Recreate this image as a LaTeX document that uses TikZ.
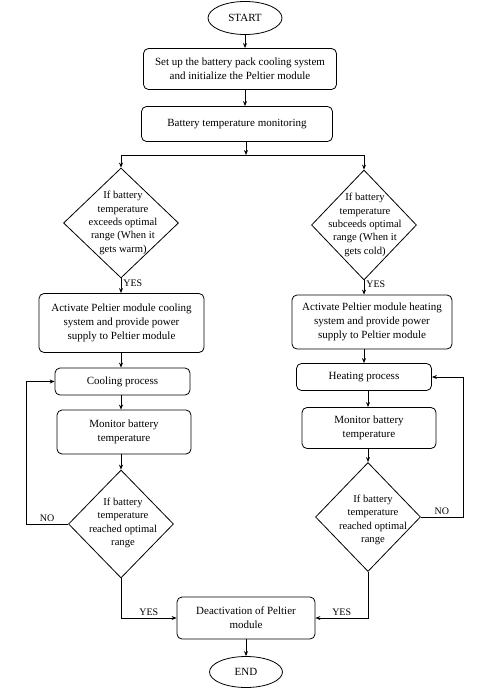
\documentclass[tikz,border=0pt]{standalone}
\usepackage{fontspec}
\setmainfont{Liberation Serif}
\usetikzlibrary{shapes.geometric,arrows.meta}
\begin{document}
\begin{tikzpicture}[x=1pt,y=-1pt, line width=0.8pt,
  box/.style={draw, rounded corners=5pt, align=center, font=\fontsize{11}{14}\selectfont, inner sep=0pt},
  term/.style={draw, ellipse, inner sep=0pt, font=\fontsize{11}{14}\selectfont},
  dec/.style={draw, diamond, inner sep=0pt},
  dtext/.style={align=center, font=\fontsize{10.6}{13.3}\selectfont, inner sep=0pt},
  lab/.style={font=\fontsize{10}{12}\selectfont, inner sep=2pt},
  arr/.style={-{Stealth[length=5pt,width=4pt]}}]
\useasboundingbox (0,0) rectangle (494,692);

\node[term, minimum width=74pt, minimum height=33pt] (start) at (245,18) {START};
\node[box, minimum width=193pt, minimum height=41pt] (b1) at (240,69) {Set up the battery pack cooling system\\and initialize the Peltier module};
\node[box, minimum width=191pt, minimum height=35pt] (b2) at (237,124) {Battery temperature monitoring};

\node[dec, minimum width=115pt, minimum height=110pt] (d1) at (121,223) {};
\node[dtext] (d1t) at (123,223) {If battery\\temperature\\exceeds optimal\\range (When it\\gets warm)};
\node[dec, minimum width=105pt, minimum height=110pt] (d2) at (364,225) {};
\node[dtext] (d2t) at (365,225) {If battery\\temperature\\subceeds optimal\\range (When it\\gets cold)};

\node[box, minimum width=165pt, minimum height=59pt] (a1) at (121.5,323) {Activate Peltier module cooling\\system and provide power\\supply to Peltier module};
\node[box, minimum width=160pt, minimum height=54pt] (a2) at (372,322) {Activate Peltier module heating\\system and provide power\\supply to Peltier module};

\node[box, minimum width=135pt, minimum height=27pt] (c1) at (122.5,381.5) {Cooling process};
\node[box, minimum width=135pt, minimum height=27pt] (h1) at (364,377) {Heating process};

\node[box, minimum width=134pt, minimum height=44pt] (m1) at (124,432) {Monitor battery\\temperature};
\node[box, minimum width=134pt, minimum height=41pt] (m2) at (369,428) {Monitor battery\\temperature};

\node[dec, minimum width=105pt, minimum height=108pt] (d3) at (121,524) {};
\node[dtext] (d3t) at (123,523) {If battery\\temperature\\reached optimal\\range};
\node[dec, minimum width=105pt, minimum height=109pt] (d4) at (368,517) {};
\node[dtext] (d4t) at (373,520) {If battery\\temperature\\reached optimal\\range};

\node[box, minimum width=138pt, minimum height=42pt] (dd) at (246,618) {Deactivation of Peltier\\module};
\node[term, minimum width=73pt, minimum height=31pt] (end) at (246,672) {END};

\coordinate (sp) at (246,155);
\coordinate (lx) at (26,0);
\coordinate (rx) at (463,0);

\draw[arr] (start) -- (start |- b1.north);
\draw[arr] (b1.south -| start) -- (b2.north -| start);
\draw[arr] (b2.south -| sp) -- (sp);
\draw[arr] (sp) -| (d1.north);
\draw[arr] (sp) -| (d2.north);

\draw[arr] (d1.south) -- node[lab, right, pos=0.3]{YES} (d1.south |- a1.north);
\draw[arr] (a1.south -| d1) -- (c1.north -| d1);
\draw[arr] (c1.south -| d1) -- (m1.north -| d1);
\draw[arr] (m1.south -| d1) -- (d3.north);
\draw[arr] (d3.west) -- node[lab, above]{NO} (d3.west -| lx) |- (c1.west);
\draw[arr] (d3.south) |- node[lab, above, pos=0.75]{YES} (dd.west);

\draw[arr] (d2.south) -- node[lab, right, pos=0.3]{YES} (d2.south |- a2.north);
\draw[arr] (a2.south -| d2) -- (h1.north -| d2);
\draw[arr] (h1.south -| d4) -- (m2.north -| d4);
\draw[arr] (m2.south -| d4) -- (d4.north);
\draw[arr] (d4.east) -- node[lab, above]{NO} (d4.east -| rx) |- (h1.east);
\draw[arr] (d4.south) |- node[lab, above, pos=0.75]{YES} (dd.east);

\draw[arr] (dd) -- (end);
\end{tikzpicture}
\end{document}
